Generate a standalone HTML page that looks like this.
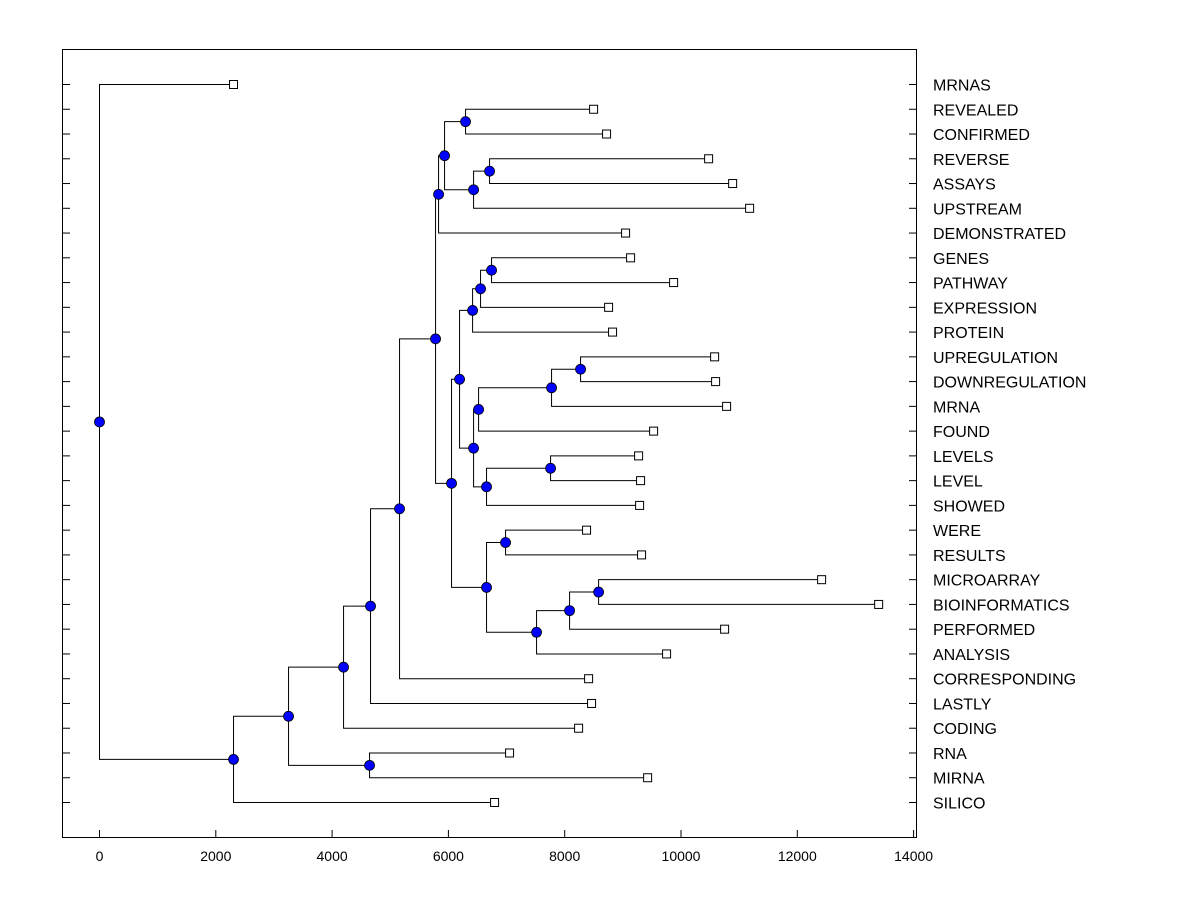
<!DOCTYPE html>
<html><head><meta charset="utf-8"><style>
body{margin:0;background:#fff;}
svg{display:block;font-family:"Liberation Sans",Arial,sans-serif;}
</style></head><body>
<svg id="chart" width="1200" height="900" viewBox="0 0 1200 900" xmlns="http://www.w3.org/2000/svg">
<rect x="0" y="0" width="1200" height="900" fill="#fff"/>
<rect x="62.5" y="49.5" width="854" height="788" fill="none" stroke="#000" stroke-width="1"/>
<g id="axis"></g><g id="links"></g><g id="marks"></g><g id="labels"></g>
</svg>
<script>
const leafNames = ["MRNAS","REVEALED","CONFIRMED","REVERSE","ASSAYS","UPSTREAM","DEMONSTRATED","GENES","PATHWAY","EXPRESSION","PROTEIN","UPREGULATION","DOWNREGULATION","MRNA","FOUND","LEVELS","LEVEL","SHOWED","WERE","RESULTS","MICROARRAY","BIOINFORMATICS","PERFORMED","ANALYSIS","CORRESPONDING","LASTLY","CODING","RNA","MIRNA","SILICO"];
const leafValues = [2305,8497,8720,10475,10888,11180,9047,9133,9873,8755,8823,10578,10595,10784,9529,9271,9305,9288,8376,9322,12418,13399,10750,9752,8411,8462,8239,7052,9426,6794];
// internal nodes: [id, height, childA, childB]; children are leaf names or node ids
const nodeIds = ["K","M","L","J","H","S","R","P","W","V","T","X","U","Q","N","Y","AB","AA","Z","O","I","G","F","E","C","D","B","A","ROOT"];
const nodeHeights = [6295,6708,6433,5934,5831,6742,6553,6416,8273,7774,6519,7757,6656,6433,6192,6983,8583,8084,7516,6656,6054,5779,5160,4661,4197,4644,3251,2305,0];
const nodeChildren = [["REVEALED","CONFIRMED"],["REVERSE","ASSAYS"],["M","UPSTREAM"],["K","L"],["J","DEMONSTRATED"],["GENES","PATHWAY"],["S","EXPRESSION"],["R","PROTEIN"],["UPREGULATION","DOWNREGULATION"],["W","MRNA"],["V","FOUND"],["LEVELS","LEVEL"],["X","SHOWED"],["T","U"],["P","Q"],["WERE","RESULTS"],["MICROARRAY","BIOINFORMATICS"],["AB","PERFORMED"],["AA","ANALYSIS"],["Y","Z"],["N","O"],["H","I"],["G","CORRESPONDING"],["F","LASTLY"],["E","CODING"],["RNA","MIRNA"],["C","D"],["B","SILICO"],["MRNAS","A"]];
const xTicks = [0,2000,4000,6000,8000,10000,12000,14000];

const NS="http://www.w3.org/2000/svg";
const X0=99.5, PX=116.3/2000, Y0=84.5, DY=(802-84)/29;
const xs=v=>X0+v*PX, ys=i=>Y0+i*DY;
function mk(tag,attrs,parent){const e=document.createElementNS(NS,tag);for(const k in attrs)e.setAttribute(k,attrs[k]);document.getElementById(parent).appendChild(e);return e;}

// axis ticks & labels
xTicks.forEach(t=>{
  const l=mk("line",{x1:xs(t),x2:xs(t),y1:837,y2:830,stroke:"#000"},"axis");
  
  
  const tx=mk("text",{x:xs(t),y:861,"text-anchor":"middle","font-size":"14"},"axis");
  tx.textContent=t;
  
  
});
leafNames.forEach((n,i)=>{
  const y=ys(i);
  const a=mk("line",{x1:62,x2:70,y1:y,y2:y,stroke:"#000"},"axis");
  
  
  const b=mk("line",{x1:909,x2:917,y1:y,y2:y,stroke:"#000"},"axis");
  
  
  const t=mk("text",{x:933,y:y+6,"font-size":"16"},"labels");
  t.textContent=n;
  
  
});

// positions
const pos={};
leafNames.forEach((n,i)=>{pos[n]={x:xs(leafValues[i]),y:ys(i)};});
nodeIds.forEach((id,k)=>{
  const [a,b]=nodeChildren[k];
  pos[id]={x:xs(nodeHeights[k]),y:(pos[a].y+pos[b].y)/2};
});
// links
nodeIds.forEach((id,k)=>{
  const p=pos[id];
  nodeChildren[k].forEach(c=>{
    const q=pos[c];
    const pl=mk("polyline",{points:`${p.x},${p.y} ${p.x},${q.y} ${q.x},${q.y}`,fill:"none",stroke:"#000","stroke-width":"1"},"links");
    
    
  });
});
// leaf squares
leafNames.forEach(n=>{
  const q=pos[n];
  const r=mk("rect",{x:q.x-4,y:q.y-4,width:8,height:8,fill:"#fff",stroke:"#000"},"marks");
  
  
});
// node circles
nodeIds.forEach(id=>{
  const p=pos[id];
  const c=mk("circle",{cx:p.x,cy:p.y,r:5,fill:"#0000ff",stroke:"#000","stroke-width":"0.8"},"marks");
  
  
});
</script>
</body></html>
